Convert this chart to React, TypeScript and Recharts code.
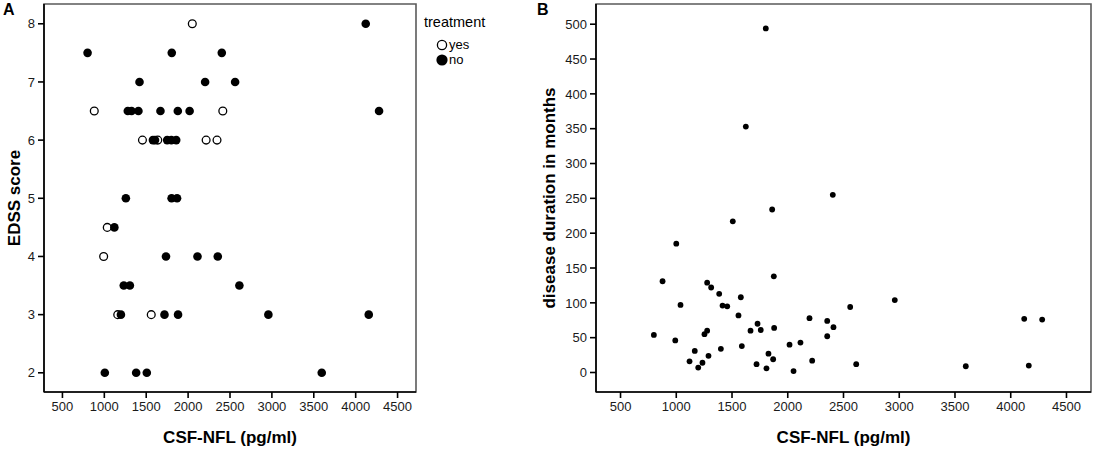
import React from "react";
import {
  ScatterChart,
  Scatter,
  XAxis,
  YAxis,
  ReferenceArea,
  Legend,
} from "recharts";

// ---------- data ----------
const xTicks = [500, 1000, 1500, 2000, 2500, 3000, 3500, 4000, 4500];
const edssTicks = [2, 3, 4, 5, 6, 7, 8];
const durationTicks = [0, 50, 100, 150, 200, 250, 300, 350, 400, 450, 500];

// Panel A: EDSS score vs CSF-NFL, treatment = yes (open circles)
const treatedYes = [
  { x: 2050, y: 8 },
  { x: 880, y: 6.5 },
  { x: 2414, y: 6.5 },
  { x: 1455, y: 6 },
  { x: 1638, y: 6 },
  { x: 2215, y: 6 },
  { x: 2345, y: 6 },
  { x: 1035, y: 4.5 },
  { x: 992, y: 4 },
  { x: 1160, y: 3 },
  { x: 1560, y: 3 },
];

// Panel A: treatment = no (filled circles)
const treatedNo = [
  { x: 4120, y: 8 },
  { x: 800, y: 7.5 },
  { x: 1805, y: 7.5 },
  { x: 2402, y: 7.5 },
  { x: 1420, y: 7 },
  { x: 2203, y: 7 },
  { x: 2561, y: 7 },
  { x: 1280, y: 6.5 },
  { x: 1325, y: 6.5 },
  { x: 1407, y: 6.5 },
  { x: 1670, y: 6.5 },
  { x: 1877, y: 6.5 },
  { x: 2018, y: 6.5 },
  { x: 4279, y: 6.5 },
  { x: 1580, y: 6 },
  { x: 1605, y: 6 },
  { x: 1750, y: 6 },
  { x: 1800, y: 6 },
  { x: 1858, y: 6 },
  { x: 1257, y: 5 },
  { x: 1803, y: 5 },
  { x: 1868, y: 5 },
  { x: 1120, y: 4.5 },
  { x: 1736, y: 4 },
  { x: 2112, y: 4 },
  { x: 2354, y: 4 },
  { x: 1232, y: 3.5 },
  { x: 1305, y: 3.5 },
  { x: 2612, y: 3.5 },
  { x: 1198, y: 3 },
  { x: 1718, y: 3 },
  { x: 1880, y: 3 },
  { x: 2958, y: 3 },
  { x: 4156, y: 3 },
  { x: 1006, y: 2 },
  { x: 1380, y: 2 },
  { x: 1507, y: 2 },
  { x: 3595, y: 2 },
];

// Panel B: disease duration (months) vs CSF-NFL
const duration = [
  { x: 1803, y: 494 },
  { x: 1624, y: 353 },
  { x: 2404, y: 255 },
  { x: 1860, y: 234 },
  { x: 1507, y: 217 },
  { x: 1000, y: 185 },
  { x: 877, y: 131 },
  { x: 1875, y: 138 },
  { x: 799, y: 54 },
  { x: 991, y: 46 },
  { x: 1038, y: 97 },
  { x: 1277, y: 129 },
  { x: 1313, y: 122 },
  { x: 1385, y: 113 },
  { x: 1415, y: 96 },
  { x: 1457, y: 95 },
  { x: 1579, y: 108 },
  { x: 1558, y: 82 },
  { x: 1253, y: 55 },
  { x: 1277, y: 60 },
  { x: 1400, y: 34 },
  { x: 1166, y: 31 },
  { x: 1119, y: 16 },
  { x: 1235, y: 14 },
  { x: 1197, y: 7 },
  { x: 1289, y: 24 },
  { x: 1588, y: 38 },
  { x: 1666, y: 60 },
  { x: 1729, y: 70 },
  { x: 1758, y: 61 },
  { x: 1878, y: 64 },
  { x: 1720, y: 12 },
  { x: 1827, y: 27 },
  { x: 1869, y: 19 },
  { x: 1809, y: 6 },
  { x: 2016, y: 40 },
  { x: 2052, y: 2 },
  { x: 2114, y: 43 },
  { x: 2195, y: 78 },
  { x: 2219, y: 17 },
  { x: 2354, y: 74 },
  { x: 2354, y: 52 },
  { x: 2410, y: 65 },
  { x: 2560, y: 94 },
  { x: 2614, y: 12 },
  { x: 2960, y: 104 },
  { x: 3597, y: 9 },
  { x: 4121, y: 77 },
  { x: 4282, y: 76 },
  { x: 4162, y: 10 },
];

// ---------- styles ----------
const X_DOMAIN: [number, number] = [280, 4720];
const EDSS_DOMAIN: [number, number] = [1.67, 8.34];
const DUR_DOMAIN: [number, number] = [-28, 529];
const FONT = "'Liberation Sans', Arial, Helvetica, sans-serif";
const TICK_FONT_SIZE = 13;
const titleStyle = { fill: "#000", fontSize: 17, fontWeight: 700, fontFamily: FONT };

const XTick = (props: any) => (
  <text
    x={props.x}
    y={props.y}
    dy="0.75em"
    textAnchor="middle"
    fill="#1a1a1a"
    fontSize={TICK_FONT_SIZE}
    fontFamily={FONT}
  >
    {props.payload.value}
  </text>
);

const YTick = (props: any) => (
  <text
    x={props.x}
    y={props.y}
    dy="0.36em"
    textAnchor="end"
    fill="#1a1a1a"
    fontSize={TICK_FONT_SIZE}
    fontFamily={FONT}
  >
    {props.payload.value}
  </text>
);

const OpenDot = (props: any) => (
  <circle cx={props.cx} cy={props.cy} r={3.9} fill="#fff" stroke="#000" strokeWidth={1.3} />
);
const FilledDot = (props: any) => (
  <circle cx={props.cx} cy={props.cy} r={4.3} fill="#000" stroke="none" />
);
const SmallDot = (props: any) => (
  <circle cx={props.cx} cy={props.cy} r={2.9} fill="#000" stroke="none" />
);

const TreatmentLegend = () => (
  <div style={{ fontFamily: FONT, color: "#000" }}>
    <div style={{ fontSize: 14.5, lineHeight: "16px" }}>treatment</div>
    <div style={{ marginLeft: 12, marginTop: 7 }}>
      <div style={{ display: "flex", alignItems: "center", height: 15 }}>
        <svg width={13} height={12} style={{ display: "block" }}>
          <circle cx={6} cy={6} r={4.6} fill="#fff" stroke="#000" strokeWidth={1.3} />
        </svg>
        <span style={{ fontSize: 13 }}>yes</span>
      </div>
      <div style={{ display: "flex", alignItems: "center", height: 15 }}>
        <svg width={13} height={12} style={{ display: "block" }}>
          <circle cx={6} cy={6} r={5.6} fill="#000" />
        </svg>
        <span style={{ fontSize: 13 }}>no</span>
      </div>
    </div>
  </div>
);

const panelLetter: React.CSSProperties = {
  position: "absolute",
  fontFamily: FONT,
  fontWeight: 700,
  fontSize: 16,
  lineHeight: "16px",
  color: "#000",
};

export default function App() {
  return (
    <div
      style={{
        position: "absolute",
        left: 0,
        top: 0,
        width: 1094,
        height: 450,
        background: "#fff",
        fontFamily: FONT,
        overflow: "hidden",
      }}
    >
      <div style={{ ...panelLetter, left: 3, top: 2 }}>A</div>
      <div style={{ ...panelLetter, left: 537, top: 2 }}>B</div>

      <div style={{ position: "absolute", left: 0, top: 0 }}>
        <ScatterChart width={530} height={450} margin={{ top: 4, right: 114, bottom: 0, left: 0 }}>
          <ReferenceArea
            x1={X_DOMAIN[0]}
            x2={X_DOMAIN[1]}
            y1={EDSS_DOMAIN[0]}
            y2={EDSS_DOMAIN[1]}
            fill="none"
            stroke="#5a5a5a"
            strokeWidth={1.6}
            ifOverflow="visible"
          />
          <XAxis
            type="number"
            dataKey="x"
            domain={X_DOMAIN}
            ticks={xTicks}
            allowDataOverflow
            height={58}
            tickMargin={3}
            tick={<XTick />}
            axisLine={{ stroke: "#000", strokeWidth: 1.6 }}
            tickLine={{ stroke: "#000", strokeWidth: 1.6 }}
            label={{ value: "CSF-NFL (pg/ml)", position: "insideBottom", offset: 7, style: titleStyle }}
          />
          <YAxis
            type="number"
            dataKey="y"
            domain={EDSS_DOMAIN}
            ticks={edssTicks}
            allowDataOverflow
            width={44}
            tickMargin={3}
            tick={<YTick />}
            axisLine={{ stroke: "#000", strokeWidth: 1.6 }}
            tickLine={{ stroke: "#000", strokeWidth: 1.6 }}
            label={{ value: "EDSS score", angle: -90, position: "center", dx: -8, style: titleStyle }}
          />
          <Legend
            layout="vertical"
            align="center"
            verticalAlign="middle"
            wrapperStyle={{ left: 424, top: 14, width: 90 }}
            content={() => <TreatmentLegend />}
          />
          <Scatter name="yes" data={treatedYes} shape={OpenDot} isAnimationActive={false} />
          <Scatter name="no" data={treatedNo} shape={FilledDot} isAnimationActive={false} />
        </ScatterChart>
      </div>

      <div style={{ position: "absolute", left: 530, top: 0 }}>
        <ScatterChart width={564} height={450} margin={{ top: 4, right: 3, bottom: 0, left: 0 }}>
          <ReferenceArea
            x1={X_DOMAIN[0]}
            x2={X_DOMAIN[1]}
            y1={DUR_DOMAIN[0]}
            y2={DUR_DOMAIN[1]}
            fill="none"
            stroke="#5a5a5a"
            strokeWidth={1.6}
            ifOverflow="visible"
          />
          <XAxis
            type="number"
            dataKey="x"
            domain={X_DOMAIN}
            ticks={xTicks}
            allowDataOverflow
            height={58}
            tickMargin={3}
            tick={<XTick />}
            axisLine={{ stroke: "#000", strokeWidth: 1.6 }}
            tickLine={{ stroke: "#000", strokeWidth: 1.6 }}
            label={{ value: "CSF-NFL (pg/ml)", position: "insideBottom", offset: 7, style: titleStyle }}
          />
          <YAxis
            type="number"
            dataKey="y"
            domain={DUR_DOMAIN}
            ticks={durationTicks}
            allowDataOverflow
            width={66}
            tickMargin={3}
            tick={<YTick />}
            axisLine={{ stroke: "#000", strokeWidth: 1.6 }}
            tickLine={{ stroke: "#000", strokeWidth: 1.6 }}
            label={{
              value: "disease duration in months",
              angle: -90,
              position: "center",
              dx: -14,
              style: titleStyle,
            }}
          />
          <Scatter name="disease duration" data={duration} shape={SmallDot} isAnimationActive={false} />
        </ScatterChart>
      </div>
    </div>
  );
}
